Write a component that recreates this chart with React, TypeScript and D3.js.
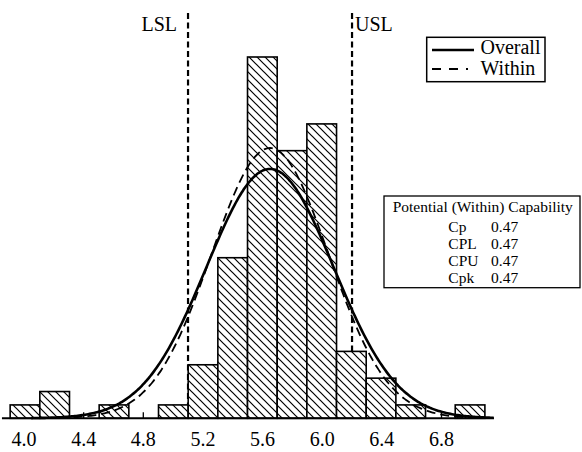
import React from "react";
import * as d3 from "d3";

// ---- data ----
const binCounts = [1, 2, 0, 1, 0, 1, 4, 12, 27, 20, 22, 5, 3, 1, 0, 1];
const binStart = 3.907;
const binWidth = 0.199;
const xTickValues = [4.0, 4.4, 4.8, 5.2, 5.6, 6.0, 6.4, 6.8];
const specLabels = ["LSL", "USL"];
const specValues = [5.1, 6.2];
const processMean = 5.65;
const sigmaOverall = 0.426;
const sigmaWithin = 0.393;
const legendLabels = ["Overall", "Within"];
const capabilityTitle = "Potential (Within) Capability";
const capabilityLabels = ["Cp", "CPL", "CPU", "Cpk"];
const capabilityValues = [0.47, 0.47, 0.47, 0.47];
const axisDomain = [3.852, 7.152];
const curveDomain = [4.05, 7.15];

const W = 582;
const H = 452;
const FONT = '"Liberation Serif", "Times New Roman", Times, "DejaVu Serif", serif';
const tStyle = { fontFamily: FONT };

export default function App() {
  const x = d3.scaleLinear().domain([4.8, 6.8]).range([143.3, 441.5]);
  const y = d3.scaleLinear().domain([0, 27]).range([418.3, 57]);
  const n = d3.sum(binCounts);

  const bins = binCounts.map((c, i) => ({
    x0: binStart + i * binWidth,
    x1: binStart + (i + 1) * binWidth,
    count: c,
  }));

  const pts = d3.range(curveDomain[0], curveDomain[1] + 1e-9, 0.01);
  const normal = (sigma: number) => (v: number) =>
    (n * binWidth * Math.exp(-0.5 * ((v - processMean) / sigma) ** 2)) /
    (sigma * Math.sqrt(2 * Math.PI));
  const line = d3
    .line<number>()
    .x((v) => x(v))
    .curve(d3.curveBasis);
  const fo = normal(sigmaOverall);
  const fw = normal(sigmaWithin);
  const overallPath = line.y((v) => y(fo(v)))(pts) || "";
  const withinPath = line.y((v) => y(fw(v)))(pts) || "";

  const baseY = y(0);

  return (
    <svg
      width={W}
      height={H}
      style={{ position: "absolute", left: 0, top: 0, display: "block", background: "#fff" }}
    >
      <defs>
        <pattern id="hatch" patternUnits="userSpaceOnUse" width={8} height={8}>
          <rect width={8} height={8} fill="#fff" />
          <path d="M-2,-2 L10,10 M-2,6 L2,10 M6,-2 L10,2" stroke="#000" strokeWidth={1.2} />
        </pattern>
      </defs>
      <rect x={0} y={0} width={W} height={H} fill="#fff" />

      {/* spec limit lines */}
      {specValues.map((v, i) => (
        <g key={specLabels[i]}>
          <line
            x1={x(v)}
            x2={x(v)}
            y1={13}
            y2={baseY}
            stroke="#000"
            strokeWidth={2.2}
            strokeDasharray="6,3.5"
          />
          <text
            x={i === 0 ? x(v) - 11 : x(v) + 3}
            y={31}
            fontSize={20}
            textAnchor={i === 0 ? "end" : "start"}
            style={tStyle}
          >
            {specLabels[i]}
          </text>
        </g>
      ))}

      {/* ticks */}
      {xTickValues.map((t) => (
        <line key={"t" + t} x1={x(t)} x2={x(t)} y1={baseY} y2={baseY - 6} stroke="#000" strokeWidth={1.3} />
      ))}

      {/* bars */}
      {bins
        .filter((b) => b.count > 0)
        .map((b, i) => (
          <rect
            key={"b" + i}
            x={x(b.x0)}
            y={y(b.count)}
            width={x(b.x1) - x(b.x0)}
            height={baseY - y(b.count)}
            fill="url(#hatch)"
            stroke="#000"
            strokeWidth={1.6}
          />
        ))}

      {/* axis line */}
      <line x1={x(axisDomain[0])} x2={x(axisDomain[1])} y1={baseY} y2={baseY} stroke="#000" strokeWidth={2} />

      {/* curves */}
      <path d={withinPath} fill="none" stroke="#000" strokeWidth={1.8} strokeDasharray="9,5" />
      <path d={overallPath} fill="none" stroke="#000" strokeWidth={2.6} />

      {/* tick labels */}
      {xTickValues.map((t) => (
        <text key={"l" + t} x={x(t)} y={446} fontSize={20} textAnchor="middle" style={tStyle}>
          {t.toFixed(1)}
        </text>
      ))}

      {/* legend */}
      <rect x={426.7} y={37.3} width={118.3} height={44.4} fill="#fff" stroke="#000" strokeWidth={1.5} />
      <line x1={432} x2={474} y1={50} y2={50} stroke="#000" strokeWidth={2.6} />
      <line x1={432} x2={468} y1={69} y2={69} stroke="#000" strokeWidth={1.8} strokeDasharray="9,8" />
      <text x={480.5} y={54} fontSize={20} style={tStyle}>
        {legendLabels[0]}
      </text>
      <text x={480.5} y={75} fontSize={20} style={tStyle}>
        {legendLabels[1]}
      </text>

      {/* capability box */}
      <rect x={384} y={196} width={196} height={91.7} fill="#fff" stroke="#000" strokeWidth={1.3} />
      <text x={392.7} y={212} fontSize={15.5} style={tStyle}>
        {capabilityTitle}
      </text>
      {capabilityLabels.map((lab, i) => (
        <g key={lab}>
          <text x={448.3} y={231.6 + i * 17} fontSize={15.5} style={tStyle}>
            {lab}
          </text>
          <text x={491} y={231.6 + i * 17} fontSize={15.5} style={tStyle}>
            {capabilityValues[i].toFixed(2)}
          </text>
        </g>
      ))}
    </svg>
  );
}
